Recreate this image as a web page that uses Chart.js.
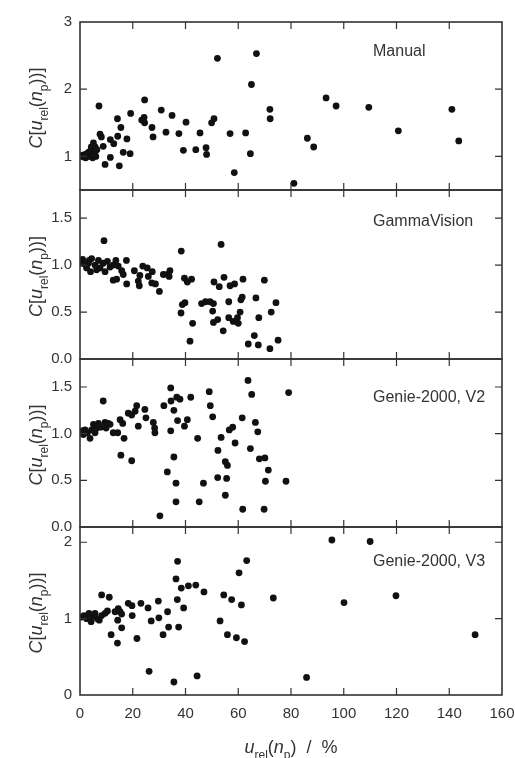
<!DOCTYPE html>
<html>
<head>
<meta charset="utf-8">
<script src="https://cdn.jsdelivr.net/npm/chart.js@4.4.1/dist/chart.umd.min.js"></script>
<style>
  body { margin: 0; background: #fff; }
  #wrap { position: relative; width: 515px; height: 758px; }
  canvas { position: absolute; left: 0; }
</style>
</head>
<body>
<div id="wrap"></div>
<script>
// data: [u_rel(n_p) in %, C]
const manual = [[0.5,1.0],[1.0,1.02],[1.5,0.99],[2.0,1.03],[2.2,0.98],[2.5,1.01],[3.0,1.05],[3.2,1.06],[3.5,1.0],[4.0,1.08],[4.3,1.14],[4.8,0.98],[5.1,1.2],[5.5,1.04],[5.7,1.14],[6.0,1.0],[6.4,1.1],
  [7.2,1.75],[7.6,1.33],[8.1,1.29],[8.8,1.15],[9.5,0.88],[11.5,1.25],[11.5,0.985],[12.8,1.19],[14.2,1.56],[14.3,1.3],[14.9,0.86],[15.5,1.43],[16.4,1.06],[17.8,1.26],[19.0,1.04],[19.2,1.64],
  [23.4,1.54],[24.3,1.58],[24.5,1.5],[24.5,1.84],[27.3,1.43],[27.7,1.29],[30.8,1.69],[32.6,1.36],[34.9,1.61],[37.5,1.34],[39.2,1.09],[40.2,1.51],[43.9,1.1],[45.5,1.35],[47.8,1.13],[48.0,1.03],
  [49.9,1.5],[50.8,1.56],[52.1,2.46],[56.9,1.34],[58.5,0.76],[62.8,1.35],[64.6,1.04],[65.0,2.07],[66.9,2.53],[72.0,1.7],[72.1,1.56],[81.1,0.6],[86.2,1.27],[88.6,1.14],[93.3,1.87],[97.1,1.75],
  [109.5,1.73],[120.7,1.38],[141.0,1.7],[143.6,1.23]];

const gammaVision = [[0.5,1.02],[1.0,1.06],[1.9,1.01],[2.5,0.97],[3.2,1.02],[3.5,1.05],[4.0,0.93],[4.4,1.07],[5.7,1.0],[6.3,0.95],[7.0,1.05],[7.6,0.97],[8.8,1.02],[9.1,1.26],[9.5,0.93],[10.4,1.04],
  [11.4,0.98],[12.6,1.0],[12.6,0.84],[13.6,1.05],[13.9,0.85],[14.5,0.99],[15.8,0.94],[16.4,0.9],[17.6,1.05],[17.7,0.8],[20.6,0.94],[22.1,0.83],[22.5,0.78],[22.7,0.89],[23.8,0.99],[25.5,0.97],
  [25.9,0.88],[27.2,0.81],[27.4,0.93],[28.6,0.8],[30.1,0.72],[31.6,0.9],[33.2,0.9],[33.8,0.88],[34.1,0.94],[38.3,0.49],[38.4,1.15],[38.8,0.58],[39.6,0.86],[39.8,0.6],[40.7,0.82],[41.7,0.19],
  [42.3,0.85],[42.7,0.38],[46.1,0.59],[47.6,0.61],[49.3,0.61],[50.3,0.51],[50.6,0.59],[50.6,0.39],[50.8,0.82],[52.2,0.42],[52.8,0.77],[53.5,1.22],[54.3,0.3],[54.6,0.87],[56.4,0.61],[56.4,0.44],
  [56.9,0.78],[58.1,0.4],[58.6,0.8],[59.7,0.44],[60.0,0.38],[60.7,0.5],[61.0,0.63],[61.5,0.66],[61.8,0.85],[63.8,0.16],[66.1,0.25],[66.7,0.65],[67.6,0.15],[67.8,0.44],[69.9,0.84],[72.0,0.11],
  [72.5,0.5],[74.3,0.6],[75.1,0.2]];

const genieV2 = [[0.6,1.03],[1.3,0.99],[1.9,1.04],[2.8,1.01],[3.8,0.95],[4.4,1.04],[5.1,1.1],[5.7,1.01],[6.3,1.06],[7.0,1.11],[7.8,1.07],[8.8,1.35],[9.5,1.12],[9.9,1.06],[10.7,1.11],[11.4,1.1],
  [12.6,1.01],[14.3,1.01],[15.2,1.15],[15.5,0.77],[16.2,1.11],[16.7,0.95],[18.3,1.22],[19.6,1.2],[19.6,0.71],[20.9,1.24],[21.5,1.3],[22.1,1.08],[24.6,1.26],[25.0,1.17],[27.8,1.12],[28.3,1.06],
  [28.4,1.01],[30.3,0.12],[31.8,1.3],[33.1,0.59],[34.4,1.49],[34.5,1.35],[34.4,1.03],[35.6,1.25],[35.6,0.75],[36.4,0.47],[36.4,0.27],[36.7,1.39],[37.0,1.14],[37.9,1.37],[39.6,1.08],[40.7,1.15],
  [42.0,1.39],[44.6,0.95],[45.2,0.27],[46.8,0.47],[49.0,1.45],[49.4,1.3],[50.3,1.18],[52.2,0.53],[52.3,0.82],[53.5,0.96],[55.1,0.7],[55.1,0.34],[55.6,0.52],[55.9,0.66],[56.6,1.04],[57.9,1.07],
  [58.8,0.9],[61.5,1.17],[61.7,0.19],[63.7,1.57],[64.6,0.84],[65.1,1.42],[66.5,1.12],[67.4,1.02],[68.0,0.73],[69.8,0.19],[70.1,0.74],[70.3,0.49],[71.4,0.61],[78.1,0.49],[79.1,1.44]];

const genieV3 = [[0.6,1.02],[1.5,1.04],[2.5,1.0],[3.4,1.07],[4.2,0.96],[4.8,1.03],[5.7,1.07],[6.6,1.0],[7.3,0.98],[8.2,1.04],[8.2,1.31],[9.5,1.07],[10.4,1.1],[11.1,1.28],[11.8,0.79],[13.3,1.09],
  [14.2,0.68],[14.3,0.98],[14.5,1.13],[15.2,1.09],[15.8,1.06],[15.8,0.88],[18.3,1.2],[19.7,1.17],[19.8,1.04],[21.6,0.74],[23.1,1.2],[25.8,1.14],[26.2,0.31],[27.0,0.97],[29.7,1.23],[29.9,1.01],
  [31.5,0.79],[33.2,1.09],[33.6,0.89],[35.6,0.17],[36.4,1.52],[36.9,1.25],[37.0,1.75],[37.4,0.89],[38.4,1.4],[39.3,1.14],[41.1,1.43],[43.9,1.44],[44.4,0.25],[47.0,1.35],[53.1,0.97],[54.5,1.31],
  [55.9,0.79],[57.5,1.25],[59.3,0.75],[60.3,1.6],[61.2,1.18],[62.4,0.7],[63.2,1.76],[73.3,1.27],[85.9,0.23],[95.5,2.03],[100.1,1.21],[110.0,2.01],[119.8,1.3],[149.8,0.79]];

const panelNames = ["Manual", "GammaVision", "Genie-2000, V2", "Genie-2000, V3"];
const xTicks = [0, 20, 40, 60, 80, 100, 120, 140, 160];
const manualTicks = [1, 2, 3];
const gammaTicks = [0, 0.5, 1, 1.5];
const genieV2Ticks = [0, 0.5, 1, 1.5];
const genieV3Ticks = [0, 1, 2];

const FONT = '"Liberation Sans", Arial, sans-serif';
const INK = "#333";

// draws text made of pieces: italic (i) and subscript (s)
function drawRich(ctx, parts, cx, cy, size, vertical) {
  const fontOf = p => (p.i ? "italic " : "") + (p.s ? Math.round(size * 0.68) : size) + "px " + FONT;
  let w = 0;
  parts.forEach(p => { ctx.font = fontOf(p); p.w = ctx.measureText(p.t).width; w += p.w; });
  ctx.save();
  ctx.translate(cx, cy);
  if (vertical) ctx.rotate(-Math.PI / 2);
  ctx.fillStyle = INK;
  ctx.textBaseline = "alphabetic";
  ctx.textAlign = "left";
  let x = -w / 2;
  const base = size * 0.36;
  parts.forEach(p => {
    ctx.font = fontOf(p);
    ctx.fillText(p.t, x, p.s ? base + size * 0.28 : base);
    x += p.w;
  });
  ctx.restore();
}

const yTitle = [{t: "C", i: 1}, {t: "["}, {t: "u", i: 1}, {t: "rel", s: 1}, {t: "("}, {t: "n", i: 1}, {t: "p", s: 1}, {t: ")"}, {t: ")"}, {t: "]"}];
const xTitle = [{t: "u", i: 1}, {t: "rel", s: 1}, {t: "("}, {t: "n", i: 1}, {t: "p", s: 1}, {t: ")"}, {t: "  /  "}, {t: "%"}];

const framePlugin = {
  id: "frame",
  afterDraw(chart, args, opts) {
    const {ctx, chartArea: a, scales: {x, y}} = chart;
    ctx.save();
    ctx.strokeStyle = INK;
    ctx.lineWidth = 1.2;
    ctx.beginPath();
    xTicks.forEach(v => {
      const px = x.getPixelForValue(v);
      if (px <= a.left + 1 || px >= a.right - 1) return;
      ctx.moveTo(px, a.top); ctx.lineTo(px, a.top + 7);
      ctx.moveTo(px, a.bottom); ctx.lineTo(px, a.bottom - 7);
    });
    opts.ticks.forEach(v => {
      const py = y.getPixelForValue(v);
      if (py <= a.top + 1 || py >= a.bottom - 1) return;
      ctx.moveTo(a.left, py); ctx.lineTo(a.left + 7, py);
      ctx.moveTo(a.right, py); ctx.lineTo(a.right - 7, py);
    });
    ctx.stroke();
    ctx.lineWidth = 1.6;
    ctx.strokeRect(a.left, a.top, a.right - a.left, a.bottom - a.top);

    ctx.fillStyle = INK;
    ctx.font = "16px " + FONT;
    ctx.textBaseline = "middle";
    ctx.textAlign = "left";
    ctx.fillText(opts.name, 373, a.top + opts.nameDy);
    ctx.restore();

    drawRich(ctx, yTitle, 36, (a.top + a.bottom) / 2 + 2, 18, true);
    if (opts.last) drawRich(ctx, xTitle, (a.left + a.right) / 2, 747 - chart.canvas.offsetTop, 18, false);
  }
};

// keep the plot area where the layout padding puts it
function noScalePadding(s) {
  s.paddingTop = 0; s.paddingBottom = 0; s.paddingLeft = 0; s.paddingRight = 0;
}

const panels = [
  {data: manual, ticks: manualTicks, min: 0.5, max: 3, top: 22, bottom: 190, nameDy: 30, dec: 0},
  {data: gammaVision, ticks: gammaTicks, min: 0, max: 1.8, top: 190, bottom: 359, nameDy: 32, dec: 1},
  {data: genieV2, ticks: genieV2Ticks, min: 0, max: 1.8, top: 359, bottom: 527, nameDy: 39, dec: 1},
  {data: genieV3, ticks: genieV3Ticks, min: 0, max: 2.2, top: 527, bottom: 695, nameDy: 35, dec: 0}
];

const wrap = document.getElementById("wrap");
panels.forEach((p, i) => {
  const last = i === panels.length - 1;
  const canvas = document.createElement("canvas");
  const cTop = p.top - 12;
  const cHeight = last ? 758 - cTop : p.bottom - p.top + 24;
  canvas.width = 515;
  canvas.height = cHeight;
  canvas.style.top = cTop + "px";
  wrap.appendChild(canvas);

  new Chart(canvas, {
    type: "scatter",
    data: {
      datasets: [{
        data: p.data.map(d => ({x: d[0], y: d[1]})),
        backgroundColor: "#111",
        borderWidth: 0,
        pointRadius: 3.4
      }]
    },
    options: {
      responsive: false,
      animation: false,
      events: [],
      layout: {padding: {top: 12, bottom: last ? 0 : 12, left: 0, right: 13}},
      plugins: {
        legend: {display: false},
        tooltip: {enabled: false},
        frame: {ticks: p.ticks, name: panelNames[i], nameDy: p.nameDy, last: last}
      },
      scales: {
        x: {
          type: "linear",
          min: 0,
          max: 160,
          display: last,
          grid: {display: false, drawTicks: false},
          border: {display: false},
          afterBuildTicks: s => { s.ticks = xTicks.map(v => ({value: v})); },
          afterFit: s => { s.height = last ? 63 : 0; noScalePadding(s); },
          ticks: {padding: 10, color: INK, font: {family: FONT, size: 15}, maxRotation: 0}
        },
        y: {
          min: p.min,
          max: p.max,
          grid: {display: false, drawTicks: false},
          border: {display: false},
          afterBuildTicks: s => { s.ticks = p.ticks.map(v => ({value: v})); },
          afterFit: s => { s.width = 80; noScalePadding(s); },
          ticks: {
            padding: 8,
            color: INK,
            font: {family: FONT, size: 15},
            callback: v => v.toFixed(p.dec)
          }
        }
      }
    },
    plugins: [framePlugin]
  });
});
</script>
</body>
</html>
